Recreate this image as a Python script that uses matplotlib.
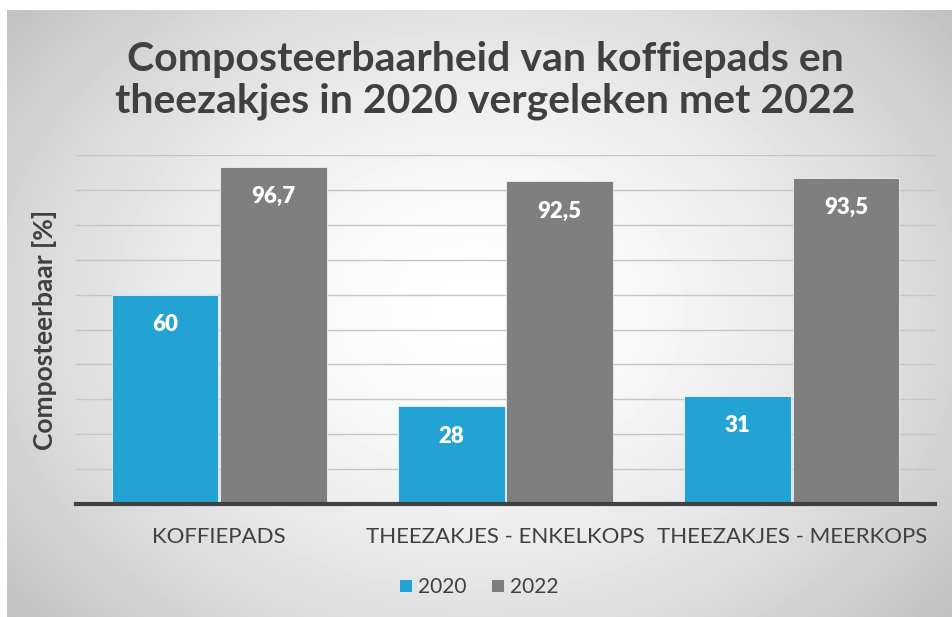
import numpy as np
import matplotlib.pyplot as plt

categories = ['KOFFIEPADS', 'THEEZAKJES - ENKELKOPS', 'THEEZAKJES - MEERKOPS']
series_names = ['2020', '2022']
v2020 = [60, 28, 31]
v2022 = [96.7, 92.5, 93.5]
labels2020 = ['60', '28', '31']
labels2022 = ['96,7', '92,5', '93,5']

blue = '#23a3d3'
grey = '#7f7f7f'
txt = '#404040'
plt.rcParams['font.family'] = ['Lato', 'DejaVu Sans']

W, H = 952, 617
fig = plt.figure(figsize=(W / 100, H / 100), dpi=100)
fig.patch.set_facecolor('white')

# radial gradient background of the chart area
bg = fig.add_axes([7 / W, 0, 1 - 7 / W, 1 - 10 / H])
yy, xx = np.mgrid[0:607, 0:945]
r = np.sqrt(((xx - 470) / 620) ** 2 + ((yy - 300) / 480) ** 2)
shade = 1 - 0.25 * np.clip(r, 0, 1) ** 1.6
bg.imshow(shade, cmap='gray', vmin=0, vmax=1, aspect='auto', interpolation='bilinear')
bg.axis('off')

ax = fig.add_axes([76 / W, 1 - 504 / H, (935 - 76) / W, (504 - 155) / H])
ax.patch.set_alpha(0)
x = np.arange(len(categories))
w = 0.373
b1 = ax.bar(x - w / 2 - 0.003, v2020, w, color=blue, edgecolor='#e8f4fa', linewidth=0.6, label=series_names[0], zorder=3)
b2 = ax.bar(x + w / 2 + 0.003, v2022, w, color=grey, edgecolor='#eeeeee', linewidth=0.6, label=series_names[1], zorder=3)

for bars, labs in ((b1, labels2020), (b2, labels2022)):
    for rect, lab in zip(bars, labs):
        ax.annotate(lab, (rect.get_x() + rect.get_width() / 2, rect.get_height()),
                    xytext=(0, -30), textcoords='offset pixels', ha='center', va='center',
                    color='white', fontsize=16, fontweight='heavy', zorder=4)

ax.set_xlim(-0.5, 2.5)
ax.set_ylim(0, 100)
ax.set_yticks(np.arange(10, 101, 10))
ax.yaxis.grid(True, color='#c6c6c6', linewidth=1)
ax.set_axisbelow(True)
ax.tick_params(axis='y', left=False, labelleft=False)
ax.tick_params(axis='x', bottom=False, pad=13)
ax.set_xticks(x)
ax.set_xticklabels(categories, fontsize=16, color=txt, fontweight='normal')
for s in ['top', 'right', 'left']:
    ax.spines[s].set_visible(False)
ax.spines['bottom'].set_color('#404040')
ax.spines['bottom'].set_linewidth(3)
ax.spines['bottom'].set_zorder(5)

ax.set_ylabel('Composteerbaar [%]', fontsize=19, fontweight='bold', color=txt, labelpad=14)

fig.text(485 / W, 1 - 80 / H, 'Composteerbaarheid van koffiepads en\ntheezakjes in 2020 vergeleken met 2022',
         ha='center', va='center', fontsize=29.5, fontweight='bold', color=txt, linespacing=1.15)

fig.legend(handles=[b1, b2], loc='center', bbox_to_anchor=(479 / W, 1 - 587 / H), ncol=2,
           frameon=False, fontsize=15, labelcolor=txt, handlelength=0.6, handleheight=0.6,
           handletextpad=0.3, columnspacing=1.2)

fig.savefig('out.png', dpi=100)
